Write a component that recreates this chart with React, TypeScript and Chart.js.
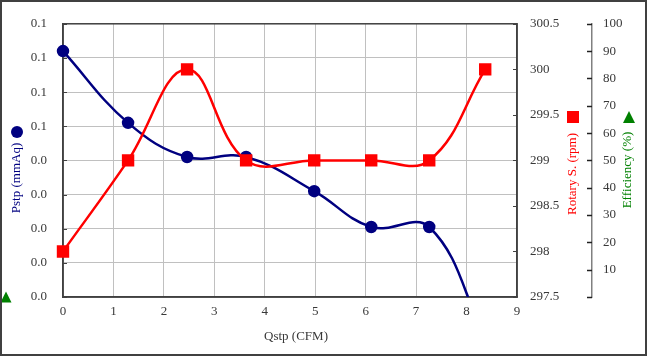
import React, { useEffect, useRef } from "react";
import { Chart, registerables } from "chart.js";

Chart.register(...registerables);

const qstp = [0, 1.29, 2.46, 3.63, 4.98, 6.11, 7.26, 8.37];
const pstp = [0.072, 0.051, 0.041, 0.041, 0.031, 0.0205, 0.0205, -0.012];
const rotary = [298, 299, 300, 299, 299, 299, 299, 300];
const efficiency: number[] = [];

const FONT = "'Liberation Serif', 'Times New Roman', serif";
const TEXT = "#383838";

const overlay = {
  id: "overlay",
  beforeDatasetsDraw(chart: any) {
    const ctx = chart.ctx;
    const a = chart.chartArea;
    const yR = chart.scales.yR;
    const yP = chart.scales.y;
    ctx.save();
    ctx.strokeStyle = "#404040";
    ctx.lineWidth = 1.5;
    ctx.strokeRect(a.left, a.top, a.right - a.left, a.bottom - a.top);
    ctx.lineWidth = 1;
    yP.ticks.forEach((t: any) => {
      const y = Math.round(yP.getPixelForValue(t.value)) + 0.5;
      ctx.beginPath();
      ctx.moveTo(a.left, y);
      ctx.lineTo(a.left + 4, y);
      ctx.stroke();
    });
    yR.ticks.forEach((t: any) => {
      const y = Math.round(yR.getPixelForValue(t.value)) + 0.5;
      ctx.beginPath();
      ctx.moveTo(a.right - 4, y);
      ctx.lineTo(a.right, y);
      ctx.stroke();
    });
    ctx.restore();
  },
  afterDraw(chart: any) {
    const ctx = chart.ctx;
    const yE = chart.scales.yE;
    ctx.save();
    // efficiency tick marks pointing left
    ctx.strokeStyle = "#202020";
    ctx.lineWidth = 1.5;
    yE.ticks.forEach((t: any) => {
      const y = Math.round(yE.getPixelForValue(t.value)) + 0.5;
      ctx.beginPath();
      ctx.moveTo(yE.left - 5, y);
      ctx.lineTo(yE.left, y);
      ctx.stroke();
    });

    // titles
    ctx.font = `13px ${FONT}`;
    ctx.textAlign = "center";
    ctx.textBaseline = "middle";
    const vtext = (txt: string, x: number, y: number, color: string) => {
      ctx.save();
      ctx.translate(x, y);
      ctx.rotate(-Math.PI / 2);
      ctx.fillStyle = color;
      ctx.fillText(txt, 0, 0);
      ctx.restore();
    };
    vtext("Pstp (mmAq)", 17, 178, "#000080");
    vtext("Rotary S. (rpm)", 573, 174, "#ff0000");
    vtext("Efficiency (%)", 628, 170, "#008000");
    ctx.fillStyle = TEXT;
    ctx.fillText("Qstp (CFM)", 296, 337);

    // markers
    ctx.fillStyle = "#000080";
    ctx.beginPath();
    ctx.arc(17, 132, 6, 0, Math.PI * 2);
    ctx.fill();
    ctx.fillStyle = "#ff0000";
    ctx.fillRect(567, 111, 12, 12);
    const tri = (x: number, y: number, s: number) => {
      ctx.fillStyle = "#008000";
      ctx.beginPath();
      ctx.moveTo(x, y - s / 2);
      ctx.lineTo(x + s / 2, y + s / 2);
      ctx.lineTo(x - s / 2, y + s / 2);
      ctx.closePath();
      ctx.fill();
    };
    tri(629, 117, 12);
    tri(6, 297, 11);

    // outer frame
    ctx.strokeStyle = "#404040";
    ctx.lineWidth = 2;
    ctx.strokeRect(1, 1, chart.width - 2, chart.height - 2);
    ctx.restore();
  },
};

export default function App() {
  const ref = useRef<HTMLCanvasElement>(null);
  useEffect(() => {
    document.body.style.margin = "0";
    const tickFont = { family: FONT, size: 13 };
    const chart = new Chart(ref.current as HTMLCanvasElement, {
      type: "line",
      data: {
        datasets: [
          {
            label: "Pstp (mmAq)",
            data: qstp.map((x, i) => ({ x, y: pstp[i] })),
            yAxisID: "y",
            borderColor: "#000080",
            backgroundColor: "#000080",
            borderWidth: 2.5,
            pointRadius: 5,
            pointStyle: "circle",
            tension: 0.4,
            order: 2,
            clip: { left: 10, top: 10, right: 10, bottom: 0 },
          },
          {
            label: "Rotary S. (rpm)",
            data: qstp.map((x, i) => ({ x, y: rotary[i] })),
            yAxisID: "yR",
            borderColor: "#ff0000",
            backgroundColor: "#ff0000",
            borderWidth: 2.5,
            pointRadius: 7,
            pointStyle: "rect",
            tension: 0.4,
            order: 1,
            clip: 10,
          },
          {
            label: "Efficiency (%)",
            data: efficiency.map((y, i) => ({ x: qstp[i], y })),
            yAxisID: "yE",
            borderColor: "#008000",
            backgroundColor: "#008000",
            pointStyle: "triangle",
            order: 0,
          },
        ],
      },
      options: {
        animation: false,
        responsive: false,
        layout: { padding: { top: 19, left: 0, right: 0, bottom: 0 } },
        plugins: { legend: { display: false }, tooltip: { enabled: false } },
        scales: {
          x: {
            type: "linear",
            position: "bottom",
            min: 0,
            max: 9,
            ticks: { stepSize: 1, padding: 7, color: TEXT, font: tickFont, maxRotation: 0 },
            grid: { color: "#c0c0c0", drawTicks: false, lineWidth: 1 },
            border: { color: "#404040", width: 1.5 },
            afterFit: (s: any) => { s.height = 59; },
          },
          y: {
            position: "left",
            min: 0,
            max: 0.08,
            ticks: {
              stepSize: 0.01,
              padding: 16,
              color: TEXT,
              font: tickFont,
              callback: (v: any) => (Number(v) + 1e-9).toFixed(1),
            },
            grid: { color: "#c0c0c0", drawTicks: false },
            border: { color: "#404040", width: 1.5 },
            afterFit: (s: any) => { s.width = 63; },
          },
          yR: {
            position: "right",
            min: 297.5,
            max: 300.5,
            ticks: {
              stepSize: 0.5,
              padding: 13,
              color: TEXT,
              font: tickFont,
              callback: (v: any) => String(Math.round(Number(v) * 10) / 10),
            },
            grid: { drawOnChartArea: false, drawTicks: false },
            border: { color: "#404040", width: 1.5 },
            afterFit: (s: any) => { s.width = 75; },
          },
          yE: {
            position: "right",
            min: 0,
            max: 100,
            ticks: {
              stepSize: 10,
              padding: 11,
              color: TEXT,
              font: tickFont,
              callback: (v: any) => (Number(v) === 0 ? "" : String(v)),
            },
            grid: { drawOnChartArea: false, drawTicks: false },
            border: { color: "#808080", width: 1.5 },
            afterFit: (s: any) => { s.width = 55; },
          },
        },
      } as any,
      plugins: [overlay],
    });
    return () => chart.destroy();
  }, []);
  return (
    <div style={{ width: 647, height: 356 }}>
      <canvas ref={ref} width={647} height={356} />
    </div>
  );
}
